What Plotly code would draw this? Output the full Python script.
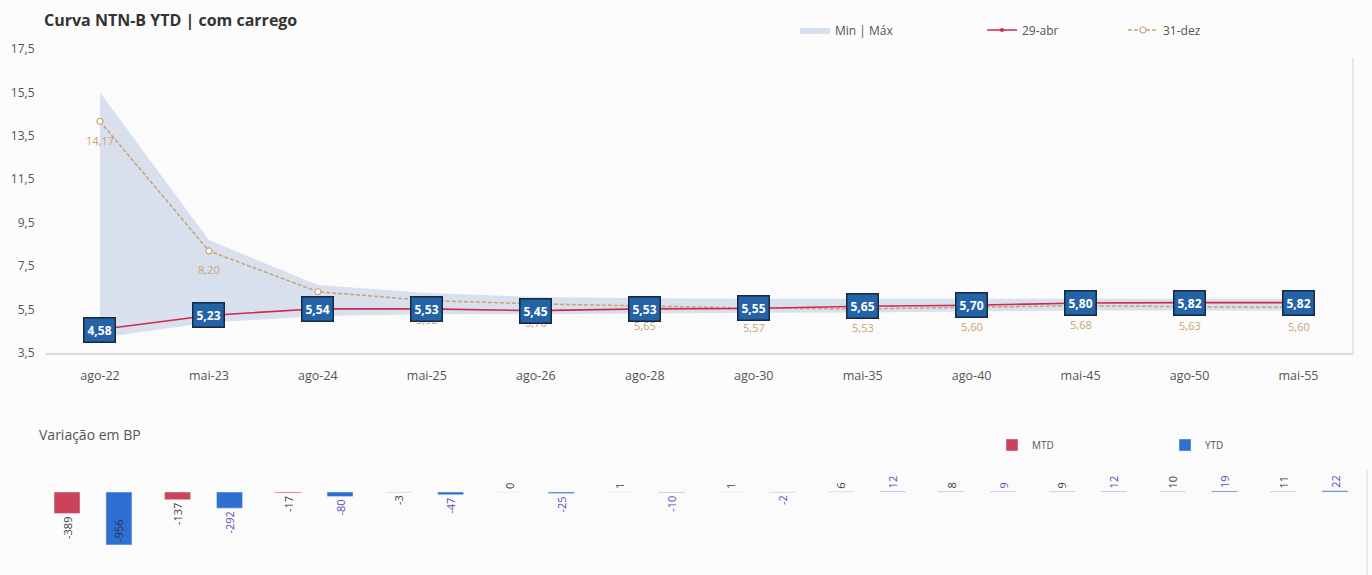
import plotly.graph_objects as go

# Vencimentos NTN-B
categorias = ["ago-22", "mai-23", "ago-24", "mai-25", "ago-26", "ago-28",
              "ago-30", "mai-35", "ago-40", "mai-45", "ago-50", "mai-55"]

# Taxas (% a.a.)
taxa_29abr = [4.58, 5.23, 5.54, 5.53, 5.45, 5.53, 5.55, 5.65, 5.70, 5.80, 5.82, 5.82]
taxa_31dez = [14.17, 8.20, 6.32, 5.92, 5.76, 5.65, 5.57, 5.53, 5.60, 5.68, 5.63, 5.60]
taxa_max = [15.50, 8.70, 6.63, 6.26, 6.08, 6.02, 6.00, 6.00, 6.00, 6.02, 6.02, 6.00]
taxa_min = [4.20, 4.90, 5.20, 5.28, 5.28, 5.32, 5.35, 5.36, 5.42, 5.46, 5.46, 5.46]

# Variação em pontos-base
var_mtd = [-389, -137, -17, -3, 0, 1, 1, 6, 8, 9, 10, 11]
var_ytd = [-956, -292, -80, -47, -25, -10, -2, 12, 9, 12, 19, 22]

W, H = 1372, 575
FONT = "Open Sans"
RED = "#d0284f"
TAN = "#c9a274"
BAND = "rgba(208,216,232,0.8)"
MTD_COLOR = "#c9435b"
YTD_COLOR = "#2f6fd0"


def br(v, nd=2):
    return f"{v:.{nd}f}".replace(".", ",")


fig = go.Figure()

# Faixa mínimo / máximo
fig.add_trace(go.Scatter(
    x=categorias, y=taxa_max, mode="lines", line=dict(width=0, color=BAND),
    showlegend=False, hoverinfo="skip", xaxis="x", yaxis="y"))
fig.add_trace(go.Scatter(
    x=categorias, y=taxa_min, mode="lines", line=dict(width=0, color=BAND),
    fill="tonexty", fillcolor=BAND, name="Min | Máx", legend="legend",
    xaxis="x", yaxis="y"))

# Curva de 31-dez
fig.add_trace(go.Scatter(
    x=categorias, y=taxa_31dez, mode="lines+markers", name="31-dez",
    line=dict(color=TAN, width=1.5, dash="4px,2px"),
    marker=dict(symbol="circle", size=6, color="white",
                line=dict(color=TAN, width=1.2)),
    legend="legend3", xaxis="x", yaxis="y"))

# Curva de 29-abr
fig.add_trace(go.Scatter(
    x=categorias, y=taxa_29abr, mode="lines+markers", name="29-abr",
    line=dict(color=RED, width=1.6),
    marker=dict(symbol="circle", size=4, color=RED),
    legend="legend2", xaxis="x", yaxis="y"))

# Barras de variação
fig.add_trace(go.Bar(
    x=categorias, y=var_mtd, name="MTD", marker_color=MTD_COLOR,
    text=[str(v) for v in var_mtd], textposition="outside", textangle=-90,
    constraintext="none", cliponaxis=False,
    outsidetextfont=dict(family=FONT, size=11, color="#3c3c3c"),
    insidetextfont=dict(family=FONT, size=11, color="#3c3c3c"),
    legend="legend4", xaxis="x2", yaxis="y2"))
fig.add_trace(go.Bar(
    x=categorias, y=var_ytd, name="YTD", marker_color=YTD_COLOR,
    text=[str(v) for v in var_ytd],
    textposition=["inside" if v < -500 else "outside" for v in var_ytd],
    textangle=-90, constraintext="none", cliponaxis=False,
    outsidetextfont=dict(family=FONT, size=11, color="#5a4db5"),
    insidetextfont=dict(family=FONT, size=11, color="#2a2f6a"),
    legend="legend5", xaxis="x2", yaxis="y2"))

annotations = []

# Rótulos de 31-dez (abaixo dos pontos)
for c, v in zip(categorias, taxa_31dez):
    annotations.append(dict(
        x=c, y=v, xref="x", yref="y", text=br(v), showarrow=False,
        yshift=-19, font=dict(family=FONT, size=11, color=TAN)))

# Rótulos de 29-abr (caixas azuis)
for c, v in zip(categorias, taxa_29abr):
    annotations.append(dict(
        x=c, y=v, xref="x", yref="y", text=f"<b>{br(v)}</b>", showarrow=False,
        font=dict(family=FONT, size=12, color="white"),
        bgcolor="#2563a7", bordercolor="#17293f", borderwidth=1.5, borderpad=3))

# Títulos
annotations.append(dict(
    x=42 / W, y=1 - 20 / H, xref="paper", yref="paper", xanchor="left",
    yanchor="middle", showarrow=False, text="<b>Curva NTN-B YTD | com carrego</b>",
    font=dict(family=FONT, size=16, color="#333333")))
annotations.append(dict(
    x=37 / W, y=1 - 434 / H, xref="paper", yref="paper", xanchor="left",
    yanchor="middle", showarrow=False, text="Variação em BP",
    font=dict(family=FONT, size=14, color="#555555")))

shapes = [
    # borda direita da área do gráfico de linhas
    dict(type="line", xref="paper", yref="paper",
         x0=1353 / W, x1=1353 / W, y0=1 - 355 / H, y1=1 - 58 / H,
         line=dict(color="#dcdfe4", width=1.5)),
    # borda direita do gráfico de barras
    dict(type="line", xref="paper", yref="paper",
         x0=1367 / W, x1=1367 / W, y0=0, y1=1 - 470 / H,
         line=dict(color="#e2e4e8", width=1.5)),
]

legend_common = dict(orientation="h", yanchor="middle", bgcolor="rgba(0,0,0,0)",
                     font=dict(family=FONT, size=12, color="#555555"),
                     itemwidth=30)
small_legend = {**legend_common, "font": dict(family=FONT, size=10, color="#555555")}

fig.update_layout(
    width=W, height=H,
    margin=dict(l=0, r=0, t=0, b=0, autoexpand=False),
    paper_bgcolor="#fcfcfc", plot_bgcolor="#fbfbfc",
    separators=",.",
    font=dict(family=FONT, size=12, color="#555555"),
    barmode="group", bargap=0.06, bargroupgap=0.5,
    xaxis=dict(domain=[45.5 / W, 1353 / W], anchor="y", type="category",
               range=[-0.5, 11.5], showgrid=False, zeroline=False,
               showline=True, linecolor="#d6d9de", linewidth=2,
               ticks="", ticklabelstandoff=10,
               tickfont=dict(family=FONT, size=12.5, color="#555555")),
    yaxis=dict(domain=[1 - 353 / H, 1 - 49 / H], anchor="x",
               range=[3.5, 17.5], tickvals=[3.5, 5.5, 7.5, 9.5, 11.5, 13.5, 15.5, 17.5],
               tickformat=".1f", showgrid=False, zeroline=False, showline=False,
               ticks="", ticklabelstandoff=10,
               tickfont=dict(family=FONT, size=12, color="#555555")),
    xaxis2=dict(domain=[37.7 / W, 1364.3 / W], anchor="y2", type="category",
                range=[-0.5, 11.5], showgrid=False, zeroline=False,
                showline=False, showticklabels=False, ticks=""),
    yaxis2=dict(domain=[0, 120 / H], anchor="x2", range=[-1500, 670],
                showgrid=False, zeroline=False, showline=False,
                showticklabels=False, ticks=""),
    legend=dict(x=795 / W, y=1 - 30 / H, **legend_common),
    legend2=dict(x=982 / W, y=1 - 30 / H, **legend_common),
    legend3=dict(x=1123 / W, y=1 - 30 / H, **legend_common),
    legend4=dict(x=992 / W, y=1 - 445 / H, **small_legend),
    legend5=dict(x=1165 / W, y=1 - 445 / H, **small_legend),
    annotations=annotations,
    shapes=shapes,
)

fig.write_html("out.html")
